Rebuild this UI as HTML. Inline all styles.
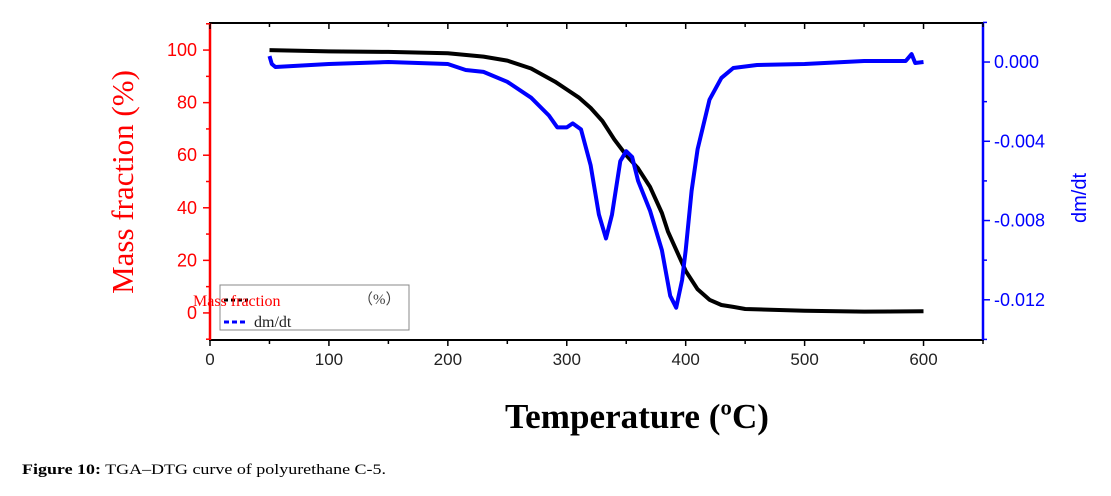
<!DOCTYPE html>
<html><head><meta charset="utf-8"><style>
body{margin:0;background:#fff;width:1111px;height:496px;overflow:hidden}
svg{display:block}
</style></head><body>
<svg id="chart" width="1111" height="496" xmlns="http://www.w3.org/2000/svg">
<rect x="210" y="23" width="773" height="317" fill="#fff" stroke="#000" stroke-width="2"/>
<g id="axes"></g>
<g id="series"></g>
<text x="0" y="0" transform="translate(133,182) rotate(-90)" text-anchor="middle" font-family="Liberation Serif, serif" font-size="31" fill="#ff0000">Mass fraction (%)</text>
<text x="0" y="0" transform="translate(1086,198) rotate(-90)" text-anchor="middle" font-family="Liberation Sans, sans-serif" font-size="20" fill="#0000ff">dm/dt</text>
<text x="637" y="428" text-anchor="middle" font-family="Liberation Serif, serif" font-weight="bold" font-size="35" fill="#000" textLength="264" lengthAdjust="spacingAndGlyphs">Temperature (ºC)</text>
<text x="22" y="474" font-family="Liberation Serif, serif" font-size="15" fill="#000" textLength="364" lengthAdjust="spacingAndGlyphs"><tspan font-weight="bold">Figure 10:</tspan> TGA–DTG curve of polyurethane C-5.</text>
<g>
<rect x="220" y="285" width="189" height="45" fill="#fff" stroke="#888" stroke-width="1"/>
<line x1="224" y1="300" x2="248" y2="300" stroke="#000" stroke-width="3" stroke-dasharray="4,3"/>
<text x="193" y="306" font-family="Liberation Serif, serif" font-size="16" fill="#ff0000">Mass fraction</text>
<text x="358" y="304" font-family="Liberation Serif, serif" font-size="15" fill="#444">（%）</text>
<line x1="224" y1="322" x2="248" y2="322" stroke="#0000ff" stroke-width="3" stroke-dasharray="5,3"/>
<text x="254" y="327" font-family="Liberation Serif, serif" font-size="16" fill="#222">dm/dt</text>
</g>
</svg>
<script>
const temps = [50,100,150,200,230,250,270,290,300,310,320,330,340,350,360,370,380,385,390,400,410,420,430,440,450,500,550,600];
const mass = [100,99.5,99.3,98.8,97.5,96,93,88,85,82,78,73,66,60,55,48,38,31,26,16,9,5,3,2.3,1.5,0.8,0.5,0.6];
const dtgTemps = [50,52,55,100,150,200,215,230,250,270,285,292,300,305,312,320,327,333,338,345,350,355,360,370,380,387,392,397,400,405,410,420,430,440,460,500,550,585,590,593,600];
const dtg = [0.0003,-0.0001,-0.00025,-0.0001,0,-0.0001,-0.0004,-0.0005,-0.001,-0.0018,-0.0027,-0.0033,-0.0033,-0.0031,-0.0034,-0.0052,-0.0077,-0.0089,-0.0077,-0.005,-0.0045,-0.0048,-0.006,-0.0075,-0.0095,-0.0118,-0.0124,-0.011,-0.0095,-0.0065,-0.0044,-0.0019,-0.0008,-0.0003,-0.00015,-0.0001,0.00005,0.00005,0.0004,-0.00005,0];
const xTicks = [0,100,200,300,400,500,600];
const leftTicks = [0,20,40,60,80,100];
const rightTicks = [0,-0.004,-0.008,-0.012];
const rightTickLabels = ["0.000","-0.004","-0.008","-0.012"];

const L=210,R=983,T=23,B=340;
const xs=v=>L+(v-0)/(650-0)*(R-L);
const yl=v=>B-(v+10.3)/(110.3+10.3)*(B-T);
const yr=v=>B-(v+0.01403)/(0.00197+0.01403)*(B-T);
const NS="http://www.w3.org/2000/svg";
const axes=document.getElementById('axes'), series=document.getElementById('series');
function mk(tag,attrs,parent){const e=document.createElementNS(NS,tag);for(const k in attrs)e.setAttribute(k,attrs[k]);parent.appendChild(e);return e;}

let e=mk('line',{x1:L,y1:T,x2:L,y2:B,stroke:'#ff0000','stroke-width':2.5},axes);


e=mk('line',{x1:R,y1:T,x2:R,y2:B,stroke:'#0000ff','stroke-width':2.5},axes);



for(let v=0;v<=650;v+=50){const x=xs(v);const maj=v%100===0;
 mk('line',{x1:x,y1:B,x2:x,y2:B+(maj?6:4),stroke:'#000','stroke-width':1.5},axes);
 mk('line',{x1:x,y1:T,x2:x,y2:T+(maj?6:4),stroke:'#000','stroke-width':1.5},axes);}
xTicks.forEach(v=>{const t=mk('text',{x:xs(v),y:B+25,'text-anchor':'middle','font-family':'Liberation Sans, sans-serif','font-size':17,fill:'#222'},axes);t.textContent=v;
 
 });
for(let v=-10;v<=110;v+=10){const y=yl(v);mk('line',{x1:L-(v%20===0?7:4),y1:y,x2:L,y2:y,stroke:'#ff0000','stroke-width':1.5},axes);}
leftTicks.forEach(v=>{const t=mk('text',{x:L-13,y:yl(v)+6,'text-anchor':'end','font-family':'Liberation Sans, sans-serif','font-size':18,fill:'#ff0000'},axes);t.textContent=v;
 
 });
for(let v=-0.014;v<=0.0021;v+=0.002){const y=yr(v);const maj=Math.round(v*1000)%4===0;mk('line',{x1:R,y1:y,x2:R+(maj?7:4),y2:y,stroke:'#0000ff','stroke-width':1.5},axes);}
rightTicks.forEach((v,i)=>{const t=mk('text',{x:R+11,y:yr(v)+6,'font-family':'Liberation Sans, sans-serif','font-size':18,fill:'#0000ff'},axes);t.textContent=rightTickLabels[i];
 
 });

let d=temps.map((t,i)=>(i?'L':'M')+xs(t).toFixed(1)+' '+yl(mass[i]).toFixed(1)).join(' ');
e=mk('path',{d:d,fill:'none',stroke:'#000','stroke-width':4,'stroke-linejoin':'round'},series);


d=dtgTemps.map((t,i)=>(i?'L':'M')+xs(t).toFixed(1)+' '+yr(dtg[i]).toFixed(1)).join(' ');
e=mk('path',{d:d,fill:'none',stroke:'#0000ff','stroke-width':4,'stroke-linejoin':'round'},series);


</script>
</body></html>
